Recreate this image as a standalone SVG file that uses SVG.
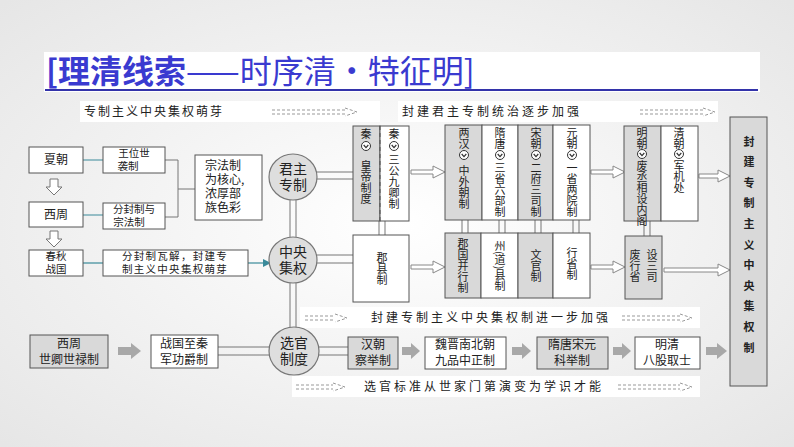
<svg xmlns="http://www.w3.org/2000/svg" width="794" height="447" viewBox="0 0 794 447">
<defs>
<radialGradient id="bg" cx="50%" cy="50%" r="70%"><stop offset="0" stop-color="#ffffff"/><stop offset="1" stop-color="#e6e6e6"/></radialGradient>
<marker id="tm" markerWidth="8" markerHeight="8" refX="7" refY="4" orient="auto" markerUnits="userSpaceOnUse"><path d="M0,0 L8,4 L0,8 Z" fill="#3a8a9a"/></marker>
<g id="ico"><circle r="4.5" fill="#fff" stroke="#333" stroke-width="1"/><path d="M-2.3,-1 L0,1.6 L2.3,-1" fill="none" stroke="#333" stroke-width="1.2"/></g>
</defs>
<style>
.t{font-family:"Noto Sans CJK SC",sans-serif;fill:#222}
.v{font-family:"Noto Sans CJK SC",sans-serif;fill:#222;writing-mode:vertical-rl;font-size:11px}
.b{fill:#fff;stroke:#555;stroke-width:1}
.g{fill:#d9d9d9;stroke:#555;stroke-width:1}
.c{fill:#dedede;stroke:#777;stroke-width:1.2}
.dl{stroke:#777;stroke-width:1;fill:none}
.ha{fill:#fff;stroke:#888;stroke-width:1}
.da{stroke:#999;stroke-width:1;fill:none;stroke-dasharray:3 2}
.sa{fill:#a8a8a8}
.tl{stroke:#3a8a9a;stroke-width:1.2;fill:none}
.ban{fill:#fff}
</style>
<rect width="794" height="447" fill="url(#bg)"/>
<g id="title">
<rect x="44" y="52" width="716" height="40" fill="#fff"/>
<line x1="45" y1="90" x2="758" y2="90" stroke="#3333aa" stroke-width="2"/>
<text x="46" y="83" class="t" font-size="32" style="fill:#3a3ad0"><tspan font-weight="bold">[理清线索</tspan><tspan>——时序清・特征明]</tspan></text>
</g>
<g id="banners">
<rect x="80" y="101" width="300" height="21" class="ban"/>
<text x="84" y="116" class="t" font-size="12" letter-spacing="2">专制主义中央集权萌芽</text>
<rect x="398" y="101" width="320" height="21" class="ban"/>
<text x="402" y="116" class="t" font-size="12" letter-spacing="3">封建君主专制统治逐步加强</text>
<rect x="300" y="307" width="400" height="21" class="ban"/>
<text x="371" y="322" class="t" font-size="12" letter-spacing="3">封建专制主义中央集权制进一步加强</text>
<rect x="292" y="376" width="408" height="21" class="ban"/>
<text x="364" y="391" class="t" font-size="12" letter-spacing="3">选官标准从世家门第演变为学识才能</text>
<g class="da">
<path d="M272,110 H345 M272,114 H345 M345,108 L357,112 L345,116"/>
<path d="M640,110 H703 M640,114 H703 M703,108 L715,112 L703,116"/>
<path d="M305,316 H335 M305,320 H335 M335,314 L347,318 L335,322"/>
<path d="M622,316 H680 M622,320 H680 M680,314 L692,318 L680,322"/>
<path d="M296,385 H333 M296,389 H333 M333,383 L345,387 L333,391"/>
<path d="M618,385 H680 M618,389 H680 M680,383 L692,387 L680,391"/>
</g>
</g>
<g id="connectors">
<path class="tl" d="M83,160 H104 M83,215 H104"/>
<path class="tl" d="M83,263 H104"/>
<path class="tl" d="M248,263 H270" marker-end="url(#tm)"/>
<path class="dl" d="M165,160 H178 V217 H165 M178,189 H195"/>
<g fill="#fff" stroke="#777">
<path d="M50,179 h8 v8 h4 l-8,8 l-8,-8 h4 z"/>
<path d="M50,231 h8 v8 h4 l-8,8 l-8,-8 h4 z"/>
</g>
<path class="dl" d="M290,200 V237 M296,200 V237 M290,283 V328 M296,283 V328"/>
<path class="dl" d="M316,172 H353 M316,179 H353 M316,255 H353 M316,263 H353"/>
<path class="dl" d="M218,347 H269 M218,355 H269 M318,347 H348 M318,355 H348"/>
<path class="dl" d="M379,221 V235 M385,221 V235 M462,220 V233 M468,220 V233 M499,220 V233 M505,220 V233 M535,220 V233 M541,220 V233 M573,220 V233 M579,220 V233 M644,221 V236 M650,221 V236"/>
<g class="ha">
<path d="M411,170 H433 V166 L445,172 L433,178 V174 H411 Z"/>
<path d="M411,265 H433 V261 L445,267 L433,273 V269 H411 Z"/>
<path d="M591,170 H613 V166 L625,172 L613,178 V174 H591 Z"/>
<path d="M591,265 H613 V261 L625,267 L613,273 V269 H591 Z"/>
<path d="M699,174 H718 V170 L730,176 L718,182 V178 H699 Z"/>
<path d="M664,268 H718 V264 L730,270 L718,276 V272 H664 Z"/>
</g>
<g class="sa">
<path d="M118,347 H131 V343 L141,351 L131,359 V355 H118 Z"/>
<path d="M402,347 H411 V343 L420,351 L411,359 V355 H402 Z"/>
<path d="M512,347 H522 V343 L531,351 L522,359 V355 H512 Z"/>
<path d="M613,347 H622 V343 L631,351 L622,359 V355 H613 Z"/>
<path d="M706,347 H717 V343 L727,351 L717,359 V355 H706 Z"/>
</g>
</g>
<g id="xia"><rect x="29" y="147" width="54" height="26" class="b"/><text x="56" y="164" class="t" font-size="12" text-anchor="middle">夏朝</text></g>
<g id="xizhou"><rect x="29" y="202" width="54" height="25" class="b"/><text x="56" y="219" class="t" font-size="12" text-anchor="middle">西周</text></g>
<g id="chunqiu"><rect x="29" y="250" width="54" height="26" class="b"/><text x="56" y="260" class="t" font-size="10.5" text-anchor="middle">春秋</text><text x="56" y="273" class="t" font-size="10.5" text-anchor="middle">战国</text></g>
<g id="wangwei"><rect x="103" y="147" width="62" height="26" class="b"/><text x="134" y="157" class="t" font-size="10.5" text-anchor="middle">王位世</text><text x="128" y="170" class="t" font-size="10.5" text-anchor="middle">袭制</text></g>
<g id="fenfeng"><rect x="103" y="203" width="62" height="26" class="b"/><text x="134" y="213" class="t" font-size="10.5" text-anchor="middle">分封制与</text><text x="129" y="226" class="t" font-size="10.5" text-anchor="middle">宗法制</text></g>
<g id="zongfa"><rect x="195" y="155" width="67" height="65" class="b"/><text class="t" font-size="12"><tspan x="205" y="170">宗法制</tspan><tspan x="205" y="184">为核心,</tspan><tspan x="205" y="198">浓厚部</tspan><tspan x="205" y="212">族色彩</tspan></text></g>
<g id="wajie"><rect x="103" y="250" width="145" height="26" class="b"/><text x="175" y="260" class="t" font-size="10.5" text-anchor="middle" letter-spacing="1.3">分封制瓦解，封建专</text><text x="175" y="273" class="t" font-size="10.5" text-anchor="middle" letter-spacing="1.3">制主义中央集权萌芽</text></g>
<g id="junzhu"><ellipse cx="293" cy="177" rx="24" ry="23" class="c"/><text x="293" y="174" class="t" font-size="14" text-anchor="middle">君主</text><text x="293" y="190" class="t" font-size="14" text-anchor="middle">专制</text></g>
<g id="zhongyang"><ellipse cx="293" cy="260" rx="24" ry="23" class="c"/><text x="293" y="257" class="t" font-size="14" text-anchor="middle">中央</text><text x="293" y="273" class="t" font-size="14" text-anchor="middle">集权</text></g>
<g id="xuanguan"><ellipse cx="294" cy="351" rx="25" ry="24" class="c"/><text x="294" y="348" class="t" font-size="14" text-anchor="middle">选官</text><text x="294" y="364" class="t" font-size="14" text-anchor="middle">制度</text></g>
<g id="qin">
<rect x="353" y="126" width="27" height="95" class="g"/><rect x="380" y="126" width="29" height="95" class="b"/>
<line x1="380" y1="126" x2="380" y2="221" stroke="#555" stroke-dasharray="4 3"/>
<text x="366" y="128" class="v">秦</text><use href="#ico" x="366" y="146"/><text x="366" y="160" class="v">皇帝制度</text>
<text x="394" y="128" class="v">秦</text><use href="#ico" x="394" y="146"/><text x="394" y="154" class="v">三公九卿制</text>
</g>
<g id="junxian"><rect x="353" y="235" width="56" height="67" class="b"/><text x="382" y="252" class="v" font-size="12">郡县制</text></g>
<g id="mid-upper">
<rect x="445" y="125" width="37" height="95" class="g"/><rect x="482" y="125" width="36" height="95" class="b"/><rect x="518" y="125" width="35" height="95" class="g"/><rect x="553" y="125" width="37" height="95" class="b"/>
<text x="464" y="127" class="v">两汉</text><use href="#ico" x="464" y="155"/><text x="464" y="165" class="v">中外朝制</text>
<text x="500" y="127" class="v">隋唐</text><use href="#ico" x="500" y="155"/><text x="500" y="162" class="v">三省六部制</text>
<text x="536" y="127" class="v">宋朝</text><use href="#ico" x="536" y="155"/><text x="536" y="162" class="v">二府三司制</text>
<text x="572" y="127" class="v">元朝</text><use href="#ico" x="572" y="155"/><text x="572" y="162" class="v">一省两院制</text>
</g>
<g id="mid-lower">
<rect x="445" y="233" width="36" height="65" class="g"/><rect x="481" y="233" width="37" height="65" class="b"/><rect x="518" y="233" width="35" height="65" class="g"/><rect x="553" y="233" width="37" height="65" class="b"/>
<text x="463" y="238" class="v">郡国并行制</text>
<text x="500" y="240" class="v">州(道)县制</text>
<text x="536" y="249" class="v" font-size="12">文官制</text>
<text x="572" y="247" class="v" font-size="12">行省制</text>
</g>
<g id="mingqing">
<rect x="624" y="126" width="37" height="95" class="g"/><rect x="661" y="126" width="37" height="95" class="b"/>
<text x="642" y="127" class="v" font-size="10.5">明朝</text><use href="#ico" x="642" y="154"/><text x="642" y="160" class="v" font-size="10">废丞相设内阁</text>
<text x="679" y="127" class="v" font-size="10.5">清朝</text><use href="#ico" x="679" y="154"/><text x="679" y="160" class="v">军机处</text>
</g>
<g id="feixing"><rect x="625" y="236" width="37" height="63" class="g"/><text x="652" y="249" class="v" font-size="12">设三司</text><text x="635" y="249" class="v" font-size="12">废行省</text></g>
<g id="right"><rect x="730" y="117" width="37" height="269" class="g"/><text x="749" y="136" class="v" font-size="14" letter-spacing="9.6" font-weight="bold">封建专制主义中央集权制</text></g>
<g id="row-bottom">
<rect x="30" y="335" width="78" height="33" class="g"/><text x="69" y="348" class="t" font-size="12" text-anchor="middle">西周</text><text x="69" y="364" class="t" font-size="12" text-anchor="middle">世卿世禄制</text>
<rect x="151" y="335" width="67" height="33" class="b"/><text x="184" y="348" class="t" font-size="12" text-anchor="middle">战国至秦</text><text x="184" y="364" class="t" font-size="12" text-anchor="middle">军功爵制</text>
<rect x="348" y="337" width="50" height="32" class="g"/><text x="373" y="349" class="t" font-size="12" text-anchor="middle">汉朝</text><text x="373" y="365" class="t" font-size="12" text-anchor="middle">察举制</text>
<rect x="425" y="337" width="81" height="32" class="b"/><text x="465" y="349" class="t" font-size="12" text-anchor="middle">魏晋南北朝</text><text x="465" y="365" class="t" font-size="12" text-anchor="middle">九品中正制</text>
<rect x="537" y="337" width="71" height="32" class="g"/><text x="572" y="349" class="t" font-size="12" text-anchor="middle">隋唐宋元</text><text x="572" y="365" class="t" font-size="12" text-anchor="middle">科举制</text>
<rect x="635" y="337" width="65" height="32" class="b"/><text x="667" y="349" class="t" font-size="12" text-anchor="middle">明清</text><text x="667" y="365" class="t" font-size="12" text-anchor="middle">八股取士</text>
</g>
</svg>
